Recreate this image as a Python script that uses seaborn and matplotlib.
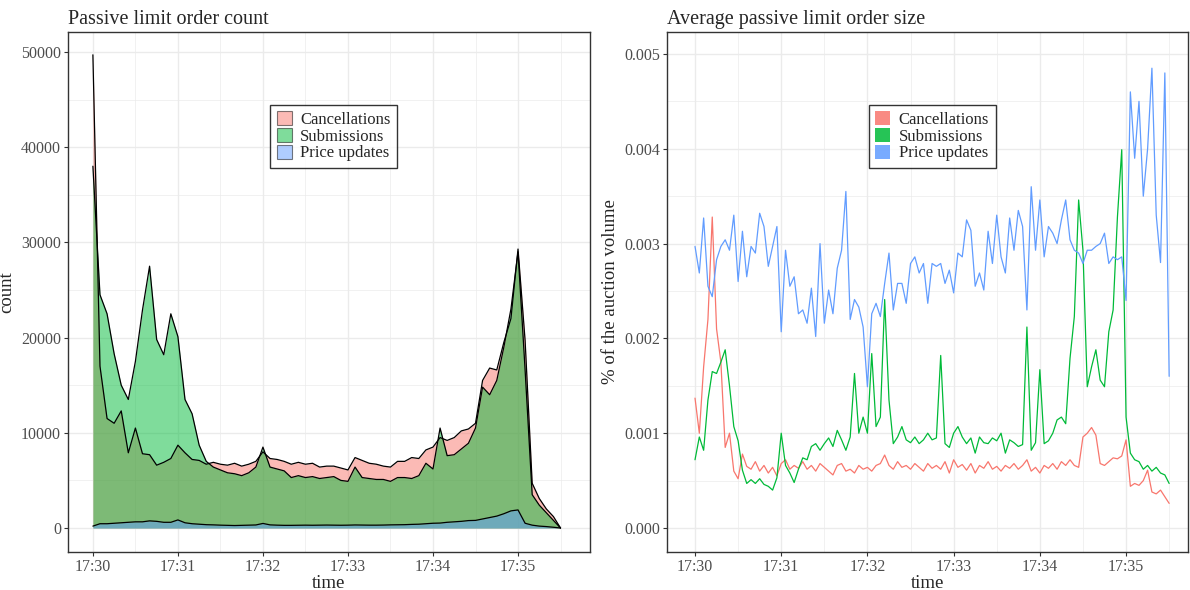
import numpy as np
import pandas as pd
import matplotlib
matplotlib.use("Agg")
import matplotlib.pyplot as plt
import matplotlib.dates as mdates
from matplotlib.patches import Patch
import seaborn as sns

# order counts, one value every 5 s from 17:30:00
count_secs = np.arange(0, 331, 5)
cancel_count = [49700, 17000, 11500, 11000, 12300, 7900, 10500, 7800, 7700, 6600,
                6900, 7300, 8700, 7900, 7200, 7100, 6700, 6900, 6700, 6600,
                6800, 6500, 6700, 7000, 8000, 7300, 7200, 7000, 6700, 6900,
                6700, 6800, 6400, 6500, 6500, 6300, 6100, 7400, 7100, 6800,
                6700, 6500, 6400, 7000, 7000, 7400, 7300, 8200, 8500, 9500,
                9200, 9500, 10200, 10400, 11000, 15500, 16800, 16600, 19500, 22000,
                29300, 19700, 4700, 3100, 2000, 1200, 0]
submit_count = [38000, 24500, 22500, 18300, 15000, 13500, 17500, 22900, 27500, 19800,
                18200, 22500, 20100, 13500, 12000, 8700, 7000, 6400, 6100, 5800,
                5700, 5500, 5800, 6400, 8500, 6400, 6200, 6000, 5300, 5500,
                5300, 5400, 5200, 5300, 5400, 5000, 4900, 6400, 5300, 5200,
                5100, 5100, 4900, 5300, 5300, 5200, 5500, 6800, 6200, 10500,
                7600, 7700, 8300, 8900, 10500, 14800, 14000, 15500, 19000, 23000,
                29000, 16600, 3500, 2400, 1600, 800, 0]
update_count = [200, 450, 450, 500, 550, 600, 650, 650, 750, 700,
                600, 600, 850, 550, 450, 400, 350, 330, 300, 280,
                260, 280, 300, 320, 480, 330, 300, 280, 280, 290,
                300, 290, 300, 310, 300, 290, 300, 320, 310, 300,
                300, 310, 330, 340, 350, 380, 400, 450, 500, 520,
                600, 650, 700, 780, 800, 950, 1100, 1250, 1500, 1800,
                1900, 500, 300, 200, 150, 80, 0]

# average order size (thousandths of a % of auction volume), every 3 s
size_secs = np.arange(0, 331, 3)
cancel_size = [1.37, 1.00, 1.70, 2.20, 3.28, 2.10, 1.75, 0.85, 1.00, 0.60,
               0.52, 0.78, 0.65, 0.62, 0.70, 0.60, 0.66, 0.58, 0.64, 0.55,
               0.68, 0.72, 0.62, 0.66, 0.63, 0.70, 0.62, 0.66, 0.60, 0.68,
               0.64, 0.60, 0.56, 0.66, 0.68, 0.60, 0.62, 0.58, 0.66, 0.62,
               0.64, 0.60, 0.66, 0.68, 0.77, 0.66, 0.62, 0.70, 0.64, 0.66,
               0.62, 0.68, 0.64, 0.60, 0.68, 0.63, 0.66, 0.62, 0.70, 0.58,
               0.72, 0.64, 0.67, 0.61, 0.68, 0.58, 0.66, 0.63, 0.70, 0.62,
               0.65, 0.60, 0.66, 0.63, 0.68, 0.62, 0.66, 0.72, 0.60, 0.64,
               0.58, 0.66, 0.63, 0.68, 0.62, 0.70, 0.66, 0.72, 0.66, 0.64,
               0.96, 1.00, 1.06, 0.98, 0.68, 0.66, 0.70, 0.74, 0.73, 0.76,
               0.93, 0.44, 0.47, 0.45, 0.50, 0.61, 0.38, 0.36, 0.40, 0.33, 0.26]
submit_size = [0.72, 0.96, 0.82, 1.35, 1.65, 1.63, 1.75, 1.88, 1.50, 1.07,
               0.92, 0.61, 0.47, 0.51, 0.47, 0.52, 0.46, 0.44, 0.40, 0.53,
               1.00, 0.66, 0.58, 0.48, 0.62, 0.74, 0.72, 0.86, 0.89, 0.82,
               0.89, 0.95, 0.86, 1.03, 0.93, 0.82, 0.96, 1.63, 1.00, 1.17,
               1.00, 1.84, 1.07, 1.17, 2.41, 1.35, 0.89, 0.96, 1.07, 0.93,
               0.90, 0.96, 0.89, 0.93, 1.00, 0.93, 0.95, 1.82, 0.89, 0.85,
               1.00, 1.07, 0.96, 0.89, 0.95, 0.79, 0.96, 0.90, 0.89, 0.95,
               0.92, 1.00, 0.79, 0.93, 0.90, 0.86, 0.88, 2.12, 0.82, 0.90,
               1.67, 0.89, 0.92, 1.00, 1.14, 1.17, 1.10, 1.79, 2.23, 3.46,
               2.93, 1.49, 1.70, 1.88, 1.56, 1.49, 2.07, 2.30, 3.28, 3.99,
               1.17, 0.79, 0.72, 0.70, 0.62, 0.66, 0.60, 0.64, 0.58, 0.56, 0.47]
update_size = [2.97, 2.69, 3.27, 2.55, 2.44, 2.83, 2.97, 3.04, 2.93, 3.30,
               2.60, 3.13, 2.65, 2.97, 2.90, 3.32, 3.18, 2.76, 2.97, 3.18,
               2.07, 2.93, 2.55, 2.65, 2.26, 2.30, 2.16, 2.53, 2.02, 3.00,
               2.16, 2.51, 2.26, 2.74, 2.93, 3.55, 2.20, 2.41, 2.33, 2.12,
               1.49, 2.26, 2.37, 2.23, 2.58, 2.90, 2.30, 2.58, 2.58, 2.37,
               2.79, 2.86, 2.69, 2.79, 2.37, 2.79, 2.76, 2.79, 2.58, 2.72,
               2.48, 2.90, 2.86, 3.25, 3.14, 2.55, 2.69, 2.51, 3.13, 2.79,
               3.30, 2.86, 2.69, 3.27, 2.93, 3.35, 3.18, 2.30, 3.60, 2.93,
               3.46, 2.86, 3.18, 3.11, 3.00, 3.25, 3.46, 3.04, 2.93, 2.90,
               2.79, 2.93, 2.93, 2.97, 3.00, 3.11, 2.79, 2.86, 2.83, 2.86,
               2.40, 4.60, 3.90, 4.50, 3.50, 4.00, 4.85, 3.30, 2.80, 4.80, 1.60]

series = ["Cancellations", "Submissions", "Price updates"]
colors = ["#F8766D", "#00BA38", "#619CFF"]

base = pd.Timestamp("2020-01-02 17:30:00")
count_df = pd.DataFrame({"time": base + pd.to_timedelta(count_secs, unit="s"),
                         "Cancellations": cancel_count,
                         "Submissions": submit_count,
                         "Price updates": update_count})
size_df = pd.DataFrame({"time": base + pd.to_timedelta(size_secs, unit="s"),
                        "Cancellations": np.array(cancel_size) / 1000,
                        "Submissions": np.array(submit_size) / 1000,
                        "Price updates": np.array(update_size) / 1000})
count_long = count_df.melt("time", var_name="type", value_name="count")
size_long = size_df.melt("time", var_name="type", value_name="size")

sns.set_theme(style="whitegrid")
plt.rcParams["font.family"] = ["Liberation Serif", "DejaVu Serif"]

fig = plt.figure(figsize=(11.9, 5.9), dpi=100)
ax1 = fig.add_axes([0.0571, 0.0644, 0.4387, 0.8814])
ax2 = fig.add_axes([0.5605, 0.0644, 0.4378, 0.8814])

# left: overlapping areas with black outlines
for name, col in zip(series, colors):
    ax1.fill_between(count_df["time"], 0, count_df[name], color=col, alpha=0.5, lw=0, zorder=2)
sns.lineplot(data=count_long, x="time", y="count", units="type", estimator=None,
             color="black", lw=0.9, ax=ax1, zorder=3)

# right: lines
sns.lineplot(data=size_long, x="time", y="size", hue="type", hue_order=series,
             palette=colors, lw=0.9, ax=ax2, legend=False, zorder=3)

def style(ax, title, ylabel, xlim, ylim, ymajor, yminor):
    ax.set_xlim(base + pd.Timedelta(seconds=xlim[0]), base + pd.Timedelta(seconds=xlim[1]))
    ax.set_ylim(*ylim)
    ax.xaxis.set_major_locator(mdates.MinuteLocator())
    ax.xaxis.set_minor_locator(mdates.SecondLocator(bysecond=[30]))
    ax.xaxis.set_major_formatter(mdates.DateFormatter("%H:%M"))
    ax.yaxis.set_major_locator(plt.MultipleLocator(ymajor))
    ax.yaxis.set_minor_locator(plt.MultipleLocator(yminor))
    ax.grid(which="major", color="#EBEBEB", lw=1.0)
    ax.grid(which="minor", color="#EBEBEB", lw=0.5)
    ax.set_axisbelow(True)
    for sp in ax.spines.values():
        sp.set_color("#333333")
        sp.set_linewidth(1.0)
    ax.tick_params(which="major", length=3, width=0.8, color="#333333",
                   labelsize=11.5, labelcolor="#4D4D4D", pad=2, bottom=True, left=True)
    ax.tick_params(which="minor", length=0)
    ax.set_title(title, loc="left", fontsize=14.5, pad=6)
    ax.set_xlabel("time", fontsize=13.5, labelpad=0)
    ax.set_ylabel(ylabel, fontsize=13.5, labelpad=4)

style(ax1, "Passive limit order count", "count", (-17.6, 350.8), (-2520, 52100), 10000, 5000)
style(ax2, "Average passive limit order size", "% of the auction volume",
      (-19.5, 343.1), (-0.000253, 0.005232), 0.001, 0.0005)
ax2.yaxis.set_major_formatter(plt.FormatStrFormatter("%.3f"))

h1 = [Patch(facecolor=c, alpha=0.5, edgecolor="black", lw=0.8) for c in colors]
h2 = [Patch(facecolor=c, alpha=0.85, edgecolor="none") for c in colors]
for ax, h in ((ax1, h1), (ax2, h2)):
    leg = ax.legend(h, series, loc="upper left", bbox_to_anchor=(0.387, 0.86),
                    fontsize=12, frameon=True, fancybox=False, handlelength=0.9,
                    handleheight=0.9, handletextpad=0.5, labelspacing=0.0,
                    borderpad=0.4, borderaxespad=0)
    leg.get_frame().set_edgecolor("black")
    leg.get_frame().set_linewidth(1.0)

fig.savefig("out.png", dpi=100)
